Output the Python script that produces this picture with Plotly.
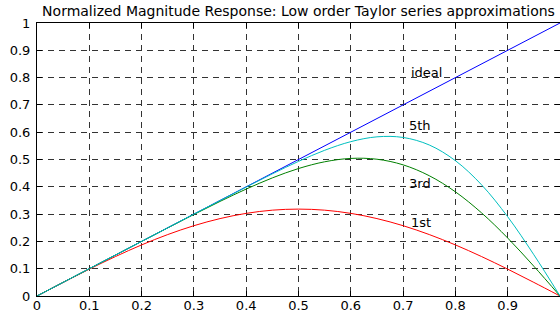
import plotly.graph_objects as go

x = [0, 0.05, 0.1, 0.15, 0.2, 0.25, 0.3, 0.35, 0.4, 0.45, 0.5,
     0.55, 0.6, 0.65, 0.7, 0.75, 0.8, 0.85, 0.9, 0.95, 1.0]
ideal = [0, 0.05, 0.1, 0.15, 0.2, 0.25, 0.3, 0.35, 0.4, 0.45, 0.5,
         0.55, 0.6, 0.65, 0.7, 0.75, 0.8, 0.85, 0.9, 0.95, 1.0]
first = [0, 0.0498, 0.0984, 0.1445, 0.1871, 0.2251, 0.2575, 0.2836, 0.3027, 0.3144, 0.3183,
         0.3144, 0.3027, 0.2836, 0.2575, 0.2251, 0.1871, 0.1445, 0.0984, 0.0498, 0]
third = [0, 0.0500, 0.1000, 0.1500, 0.1999, 0.2496, 0.2987, 0.3465, 0.3917, 0.4326, 0.4669,
         0.4916, 0.5040, 0.5010, 0.4804, 0.4406, 0.3816, 0.3045, 0.2123, 0.1090, 0]
fifth = [0, 0.0500, 0.1000, 0.1500, 0.2000, 0.2500, 0.3000, 0.3498, 0.3992, 0.4475, 0.4931,
         0.5337, 0.5654, 0.5830, 0.5808, 0.5532, 0.4957, 0.4073, 0.2902, 0.1511, 0]

tick_vals = [0, 0.1, 0.2, 0.3, 0.4, 0.5, 0.6, 0.7, 0.8, 0.9, 1]
tick_text = ["0", "0.1", "0.2", "0.3", "0.4", "0.5", "0.6", "0.7", "0.8", "0.9", "1"]

labels = ["ideal", "5th", "3rd", "1st"]
label_x = [0.711, 0.708, 0.708, 0.712]
label_y = [0.82, 0.625, 0.413, 0.271]

title = "Normalized Magnitude Response: Low order Taylor series approximations"

FONT = "DejaVu Sans, sans-serif"

fig = go.Figure()
fig.add_trace(go.Scatter(x=x, y=ideal, mode="lines", line=dict(color="#0000FF", width=1)))
fig.add_trace(go.Scatter(x=x, y=first, mode="lines", line=dict(color="#FF0000", width=1, shape="spline")))
fig.add_trace(go.Scatter(x=x, y=third, mode="lines", line=dict(color="#008000", width=1, shape="spline")))
fig.add_trace(go.Scatter(x=x, y=fifth, mode="lines", line=dict(color="#00BFBF", width=1, shape="spline")))

for t, lx, ly in zip(labels, label_x, label_y):
    fig.add_annotation(x=lx, y=ly, text=t, showarrow=False, xanchor="left", yanchor="middle",
                       font=dict(family=FONT, size=13, color="#000000"))

axis_common = dict(
    showline=True, linecolor="#000000", linewidth=1, mirror="ticks",
    ticks="inside", ticklen=5, tickcolor="#000000",
    showgrid=True, gridcolor="#333333", gridwidth=1, griddash="6px,5px",
    zeroline=False, tickfont=dict(family=FONT, size=13, color="#000000"),
    tickvals=tick_vals, ticktext=tick_text, automargin=False,
)

fig.update_xaxes(range=[0, 1], ticklabelstandoff=-3, **axis_common)
fig.update_yaxes(range=[0, 1], ticklabelstandoff=3, **axis_common)

fig.update_layout(
    width=560, height=314,
    margin=dict(l=37, r=0, t=23, b=18),
    paper_bgcolor="#FFFFFF", plot_bgcolor="#FFFFFF",
    showlegend=False,
    title=dict(text=title, x=0.5, xref="paper", xanchor="center",
               y=1 - 11 / 314, yref="container", yanchor="middle",
               font=dict(family=FONT, size=14, color="#000000")),
)

fig.write_html("out.html", config={"displayModeBar": False},
               post_script="document.body.style.margin='0';document.body.style.overflow='hidden';")
